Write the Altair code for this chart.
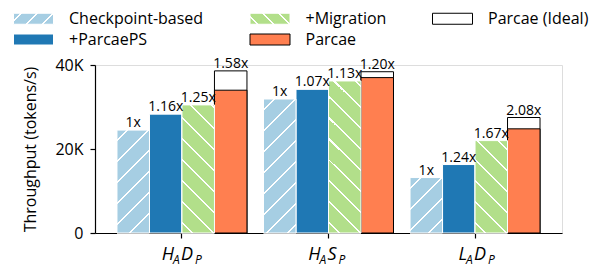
import altair as alt

# ---------------- data ----------------
groups = ["HADP", "HASP", "LADP"]
big1 = ["H", "H", "L"]
sub1 = ["A", "A", "A"]
big2 = ["D", "S", "D"]
sub2 = ["P", "P", "P"]

series = ["Checkpoint-based", "+ParcaePS", "+Migration", "Parcae"]
ideal_name = "Parcae (Ideal)"
legend_order = ["Checkpoint-based", "+Migration", "Parcae (Ideal)", "+ParcaePS", "Parcae"]

ckpt = [24500, 31900, 13200]
parcaeps = [28300, 34200, 16300]
migration = [30500, 36200, 22000]
parcae = [34000, 37000, 24800]
ideal = [38600, 38400, 27500]

ckpt_lbl = ["1x", "1x", "1x"]
ps_lbl = ["1.16x", "1.07x", "1.24x"]
mig_lbl = ["1.25x", "1.13x", "1.67x"]
ideal_lbl = ["1.58x", "1.20x", "2.08x"]

colors = {"Checkpoint-based": "#a6cee3", "+ParcaePS": "#1f78b4", "+Migration": "#b2df8a",
          "Parcae": "#ff7f50", "Parcae (Ideal)": "#ffffff"}
strokes = {"Checkpoint-based": "#ffffff", "+ParcaePS": "#ffffff", "+Migration": "#ffffff",
           "Parcae": "#000000", "Parcae (Ideal)": "#000000"}
hatch_dir = {"Checkpoint-based": "/", "+Migration": "\\"}

# ---------------- layout ----------------
W, H = 467, 168
YMAX = 40000
P_INNER, P_OUTER = 0.113, 0.15
STEP = W / (len(groups) - P_INNER + 2 * P_OUTER)
BAR_W = STEP * (1 - P_INNER) / len(series)
FONT = "Open Sans"


def stripes(w, h, base, direction, period=21.0, thick=2.0):
    s = w + h
    k = s / (w * w + h * h)
    if direction == "/":
        x1, y1, x2, y2 = 0, 0, k * w, k * h
    else:
        x1, y1, x2, y2 = 0, 1, k * w, 1 - k * h
    stops = [{"offset": 0, "color": base}]
    c = period / 2
    while c - thick / 2 < s:
        a = max(0.0, (c - thick / 2) / s)
        b = min(1.0, (c + thick / 2) / s)
        stops += [{"offset": a, "color": base}, {"offset": a, "color": "#ffffff"},
                  {"offset": b, "color": "#ffffff"}, {"offset": b, "color": base}]
        c += period
    stops.append({"offset": 1, "color": base})
    return {"gradient": "linear", "x1": x1, "y1": y1, "x2": x2, "y2": y2, "stops": stops}


def to_expr(o):
    if isinstance(o, dict):
        return "{" + ",".join(f"{k}:{to_expr(v)}" for k, v in o.items()) + "}"
    if isinstance(o, list):
        return "[" + ",".join(to_expr(v) for v in o) + "]"
    if isinstance(o, str):
        return "'" + o + "'"
    return repr(round(o, 5))


# ---------------- tables ----------------
vals = {"Checkpoint-based": ckpt, "+ParcaePS": parcaeps, "+Migration": migration, "Parcae": parcae}
lbls = {"Checkpoint-based": ckpt_lbl, "+ParcaePS": ps_lbl, "+Migration": mig_lbl}

bars = []
for i, g in enumerate(groups):
    bars.append({"group": g, "series": ideal_name, "slot": "Parcae", "value": ideal[i]})
for s in series:
    for i, g in enumerate(groups):
        bars.append({"group": g, "series": s, "slot": s, "value": vals[s][i]})

hatched = []
for s in ["Checkpoint-based", "+Migration"]:
    for i, g in enumerate(groups):
        v = vals[s][i]
        h = v / YMAX * H
        hatched.append({"group": g, "slot": s, "value": v,
                        "hatch": stripes(BAR_W, h, colors[s], hatch_dir[s])})

texts = []
for s in ["Checkpoint-based", "+ParcaePS", "+Migration"]:
    for i, g in enumerate(groups):
        texts.append({"group": g, "slot": s, "value": vals[s][i], "label": lbls[s][i]})
for i, g in enumerate(groups):
    texts.append({"group": g, "slot": "Parcae", "value": ideal[i], "label": ideal_lbl[i]})

names = [{"group": g, "b1": big1[i], "s1": sub1[i], "b2": big2[i], "s2": sub2[i]}
         for i, g in enumerate(groups)]

# legend swatch fills (hatched entries use gradient stripes)
legend_range = []
for s in legend_order:
    if s in hatch_dir:
        legend_range.append({"expr": to_expr(stripes(40, 11, colors[s], hatch_dir[s], period=16, thick=2.0))})
    else:
        legend_range.append(colors[s])

# ---------------- scales ----------------
xscale = alt.Scale(domain=groups, paddingInner=P_INNER, paddingOuter=P_OUTER)
xoff_scale = alt.Scale(domain=series, paddingInner=0, paddingOuter=0)
yscale = alt.Scale(domain=[0, YMAX], nice=False)

leg = alt.Legend(title=None, orient="none", legendX=-72, legendY=-57, direction="horizontal",
                 columns=3, symbolType="M-2,-0.55H2V0.55H-2Z", symbolSize=400,
                 symbolStrokeWidth=1, labelFont=FONT, labelFontSize=16, labelColor="#000000",
                 labelOffset=25, columnPadding=43.5, rowPadding=2, labelLimit=300)

x_enc = alt.X("group:N", scale=xscale, sort=groups,
              axis=alt.Axis(title=None, labels=False, ticks=True, tickSize=5, tickColor="#000000",
                            domainColor="#000000", domainWidth=1.2, tickWidth=1.2, grid=False))
y_enc = alt.Y("value:Q", scale=yscale, stack=None,
              axis=alt.Axis(title="Throughput (tokens/s)", values=[0, 20000, 40000],
                            labelExpr="datum.value == 0 ? '0' : (datum.value / 1000) + 'K'",
                            tickSize=5, tickColor="#000000", domainColor="#000000",
                            domainWidth=1.2, tickWidth=1.2, grid=False, labelPadding=7,
                            labelFont=FONT, labelFontSize=16, labelColor="#000000",
                            titleFont=FONT, titleFontSize=16, titleFontWeight="normal",
                            titleColor="#000000", titlePadding=16))

base_bars = alt.Chart(alt.Data(values=bars)).mark_bar(strokeWidth=1).encode(
    x=x_enc,
    xOffset=alt.XOffset("slot:N", scale=xoff_scale, sort=series),
    y=y_enc,
    color=alt.Color("series:N", scale=alt.Scale(domain=legend_order, range=legend_range),
                    sort=legend_order, legend=leg),
    stroke=alt.Stroke("series:N", scale=alt.Scale(domain=legend_order,
                                                  range=[strokes[s] for s in legend_order]),
                      sort=legend_order, legend=leg),
)

hatch_bars = alt.Chart(alt.Data(values=hatched)).mark_bar(strokeWidth=1, stroke="#ffffff").encode(
    x=alt.X("group:N", scale=xscale, sort=groups),
    xOffset=alt.XOffset("slot:N", scale=xoff_scale, sort=series),
    y=alt.Y("value:Q", scale=yscale, stack=None),
    fill=alt.Fill("hatch:N", scale=None, legend=None),
)

value_text = alt.Chart(alt.Data(values=texts)).mark_text(
    font=FONT, fontSize=14, color="#000000", baseline="alphabetic", dy=-3).encode(
    x=alt.X("group:N", scale=xscale, sort=groups),
    xOffset=alt.XOffset("slot:N", scale=xoff_scale, sort=series),
    y=alt.Y("value:Q", scale=yscale, stack=None),
    text="label:N",
)


def piece(field, dx, size, ypix, align, flt=None):
    c = alt.Chart(alt.Data(values=names))
    if flt:
        c = c.transform_filter(flt)
    return c.mark_text(
        font=FONT, fontSize=size, fontStyle="italic", color="#000000",
        align=align, baseline="alphabetic", dx=dx).encode(
        x=alt.X("group:N", scale=xscale, sort=groups),
        y=alt.value(ypix),
        text=f"{field}:N",
    )


chart = alt.layer(
    base_bars, hatch_bars, value_text,
    piece("b1", -8, 18, 195, "right"), piece("s1", -9, 12, 199, "left"),
    piece("b2", -1, 18, 195, "left"),
    piece("s2", 13, 12, 199, "left", "datum.b2 == 'D'"),
    piece("s2", 10, 12, 199, "left", "datum.b2 != 'D'"),
).properties(
    width=W, height=H,
    autosize=alt.AutoSizeParams(type="none"),
    padding={"left": 87, "top": 57, "right": 35, "bottom": 35},
).configure_view(stroke=None).configure(background="#ffffff")

chart.save("out.html", embed_options={"renderer": "svg", "actions": False})
